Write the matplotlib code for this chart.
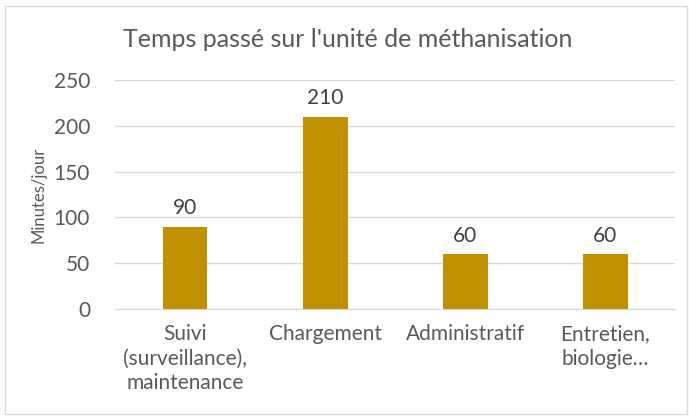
import matplotlib.pyplot as plt
from matplotlib.patches import Rectangle

categories = ['Suivi\n(surveillance),\nmaintenance', 'Chargement', 'Administratif', 'Entretien,\nbiologie…']
minutes = [90, 210, 60, 60]
yticks = [0, 50, 100, 150, 200, 250]

plt.rcParams['font.family'] = ['Lato', 'DejaVu Sans']
text_color = '#595959'
bar_color = '#BF9000'

fig = plt.figure(figsize=(6.89, 4.16), dpi=100)
ax = fig.add_axes([0.167, 0.257, 0.813, 0.551])

x = range(len(categories))
bars = ax.bar(x, minutes, width=0.32, color=bar_color, zorder=3)
for b, v in zip(bars, minutes):
    ax.text(b.get_x() + b.get_width() / 2, v + 9, str(v), ha='center', va='bottom',
            fontsize=15, color='#404040')

ax.set_xlim(-0.5, len(categories) - 0.5)
ax.set_ylim(0, 250)
ax.set_yticks(yticks)
ax.set_xticks(list(x))
ax.set_xticklabels(categories, fontsize=15, color=text_color, linespacing=1.27)
ax.tick_params(axis='y', labelsize=15, labelcolor=text_color, length=0, pad=18)
ax.tick_params(axis='x', length=0, pad=11)
ax.grid(axis='y', color='#D9D9D9', linewidth=1, zorder=0)
for s in ['top', 'right', 'left']:
    ax.spines[s].set_visible(False)
ax.spines['bottom'].set_color('#D9D9D9')

ax.set_ylabel('Minutes/jour', fontsize=12, color=text_color, labelpad=5)
fig.text(0.505, 0.904, "Temps passé sur l'unité de méthanisation", ha='center', va='center',
         fontsize=18, color=text_color)

fig.patches.append(Rectangle((0.007, 0.005), 0.99, 0.98, transform=fig.transFigure,
                             fill=False, edgecolor='#D9D9D9', linewidth=1))

fig.savefig('out.png', dpi=100)
